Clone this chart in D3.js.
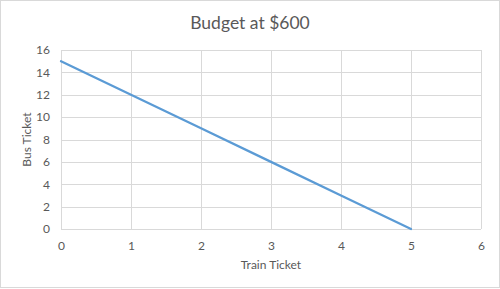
<!DOCTYPE html>
<html><head><meta charset="utf-8">
<script src="https://cdn.jsdelivr.net/npm/d3@7"></script>
<style>body{margin:0;background:#fff}svg{display:block}</style>
</head><body>
<script>
const trainTickets = [0, 1, 2, 3, 4, 5];
const busTickets = [15, 12, 9, 6, 3, 0];
const xTicks = [0, 1, 2, 3, 4, 5, 6];
const yTicks = [0, 2, 4, 6, 8, 10, 12, 14, 16];
const title = "Budget at $600";
const xLabel = "Train Ticket";
const yLabel = "Bus Ticket";

const W = 500, H = 289;
const font = "Lato, 'Open Sans', sans-serif";
const svg = d3.select("body").append("svg").attr("width", W).attr("height", H);
svg.append("rect").attr("x", 0.5).attr("y", 0.5).attr("width", W - 1).attr("height", H - 2)
  .attr("fill", "#fff").attr("stroke", "#d9d9d9");

const x = d3.scaleLinear().domain([0, 6]).range([61, 481]);
const y = d3.scaleLinear().domain([0, 16]).range([229, 50]);

const g = svg.append("g");
g.selectAll(".vg").data(xTicks).join("line")
  .attr("x1", d => x(d) + 0.5).attr("x2", d => x(d) + 0.5)
  .attr("y1", y(16)).attr("y2", y(0)).attr("stroke", "#d9d9d9");
g.selectAll(".hg").data(yTicks).join("line")
  .attr("x1", x(0)).attr("x2", x(6))
  .attr("y1", d => Math.round(y(d)) + 0.5).attr("y2", d => Math.round(y(d)) + 0.5)
  .attr("stroke", "#d9d9d9");

const xAxis = svg.append("g").attr("transform", `translate(0,${y(0)})`)
  .call(d3.axisBottom(x).tickValues(xTicks).tickSize(0).tickPadding(12).tickFormat(d3.format("d")));
xAxis.select(".domain").remove();
const yAxis = svg.append("g").attr("transform", `translate(${x(0)},0)`)
  .call(d3.axisLeft(y).tickValues(yTicks).tickSize(0).tickPadding(11).tickFormat(d3.format("d")));
yAxis.select(".domain").remove();
svg.selectAll(".tick text").attr("fill", "#595959").style("font-family", font).style("font-size", "12px");

const line = d3.line().x((d, i) => x(trainTickets[i])).y(d => y(d));
svg.append("path").datum(busTickets).attr("d", line).attr("fill", "none")
  .attr("stroke", "#5b9bd5").attr("stroke-width", 2.25).attr("stroke-linecap", "round");

svg.append("text").attr("x", 250).attr("y", 29).attr("text-anchor", "middle")
  .attr("fill", "#595959").style("font-family", font).style("font-size", "17.5px").text(title);
svg.append("text").attr("x", 271).attr("y", 269).attr("text-anchor", "middle")
  .attr("fill", "#595959").style("font-family", font).style("font-size", "12px").text(xLabel);
svg.append("text").attr("transform", `translate(31,${(y(0) + y(16)) / 2}) rotate(-90)`)
  .attr("text-anchor", "middle")
  .attr("fill", "#595959").style("font-family", font).style("font-size", "12px").text(yLabel);
</script>
</body></html>
